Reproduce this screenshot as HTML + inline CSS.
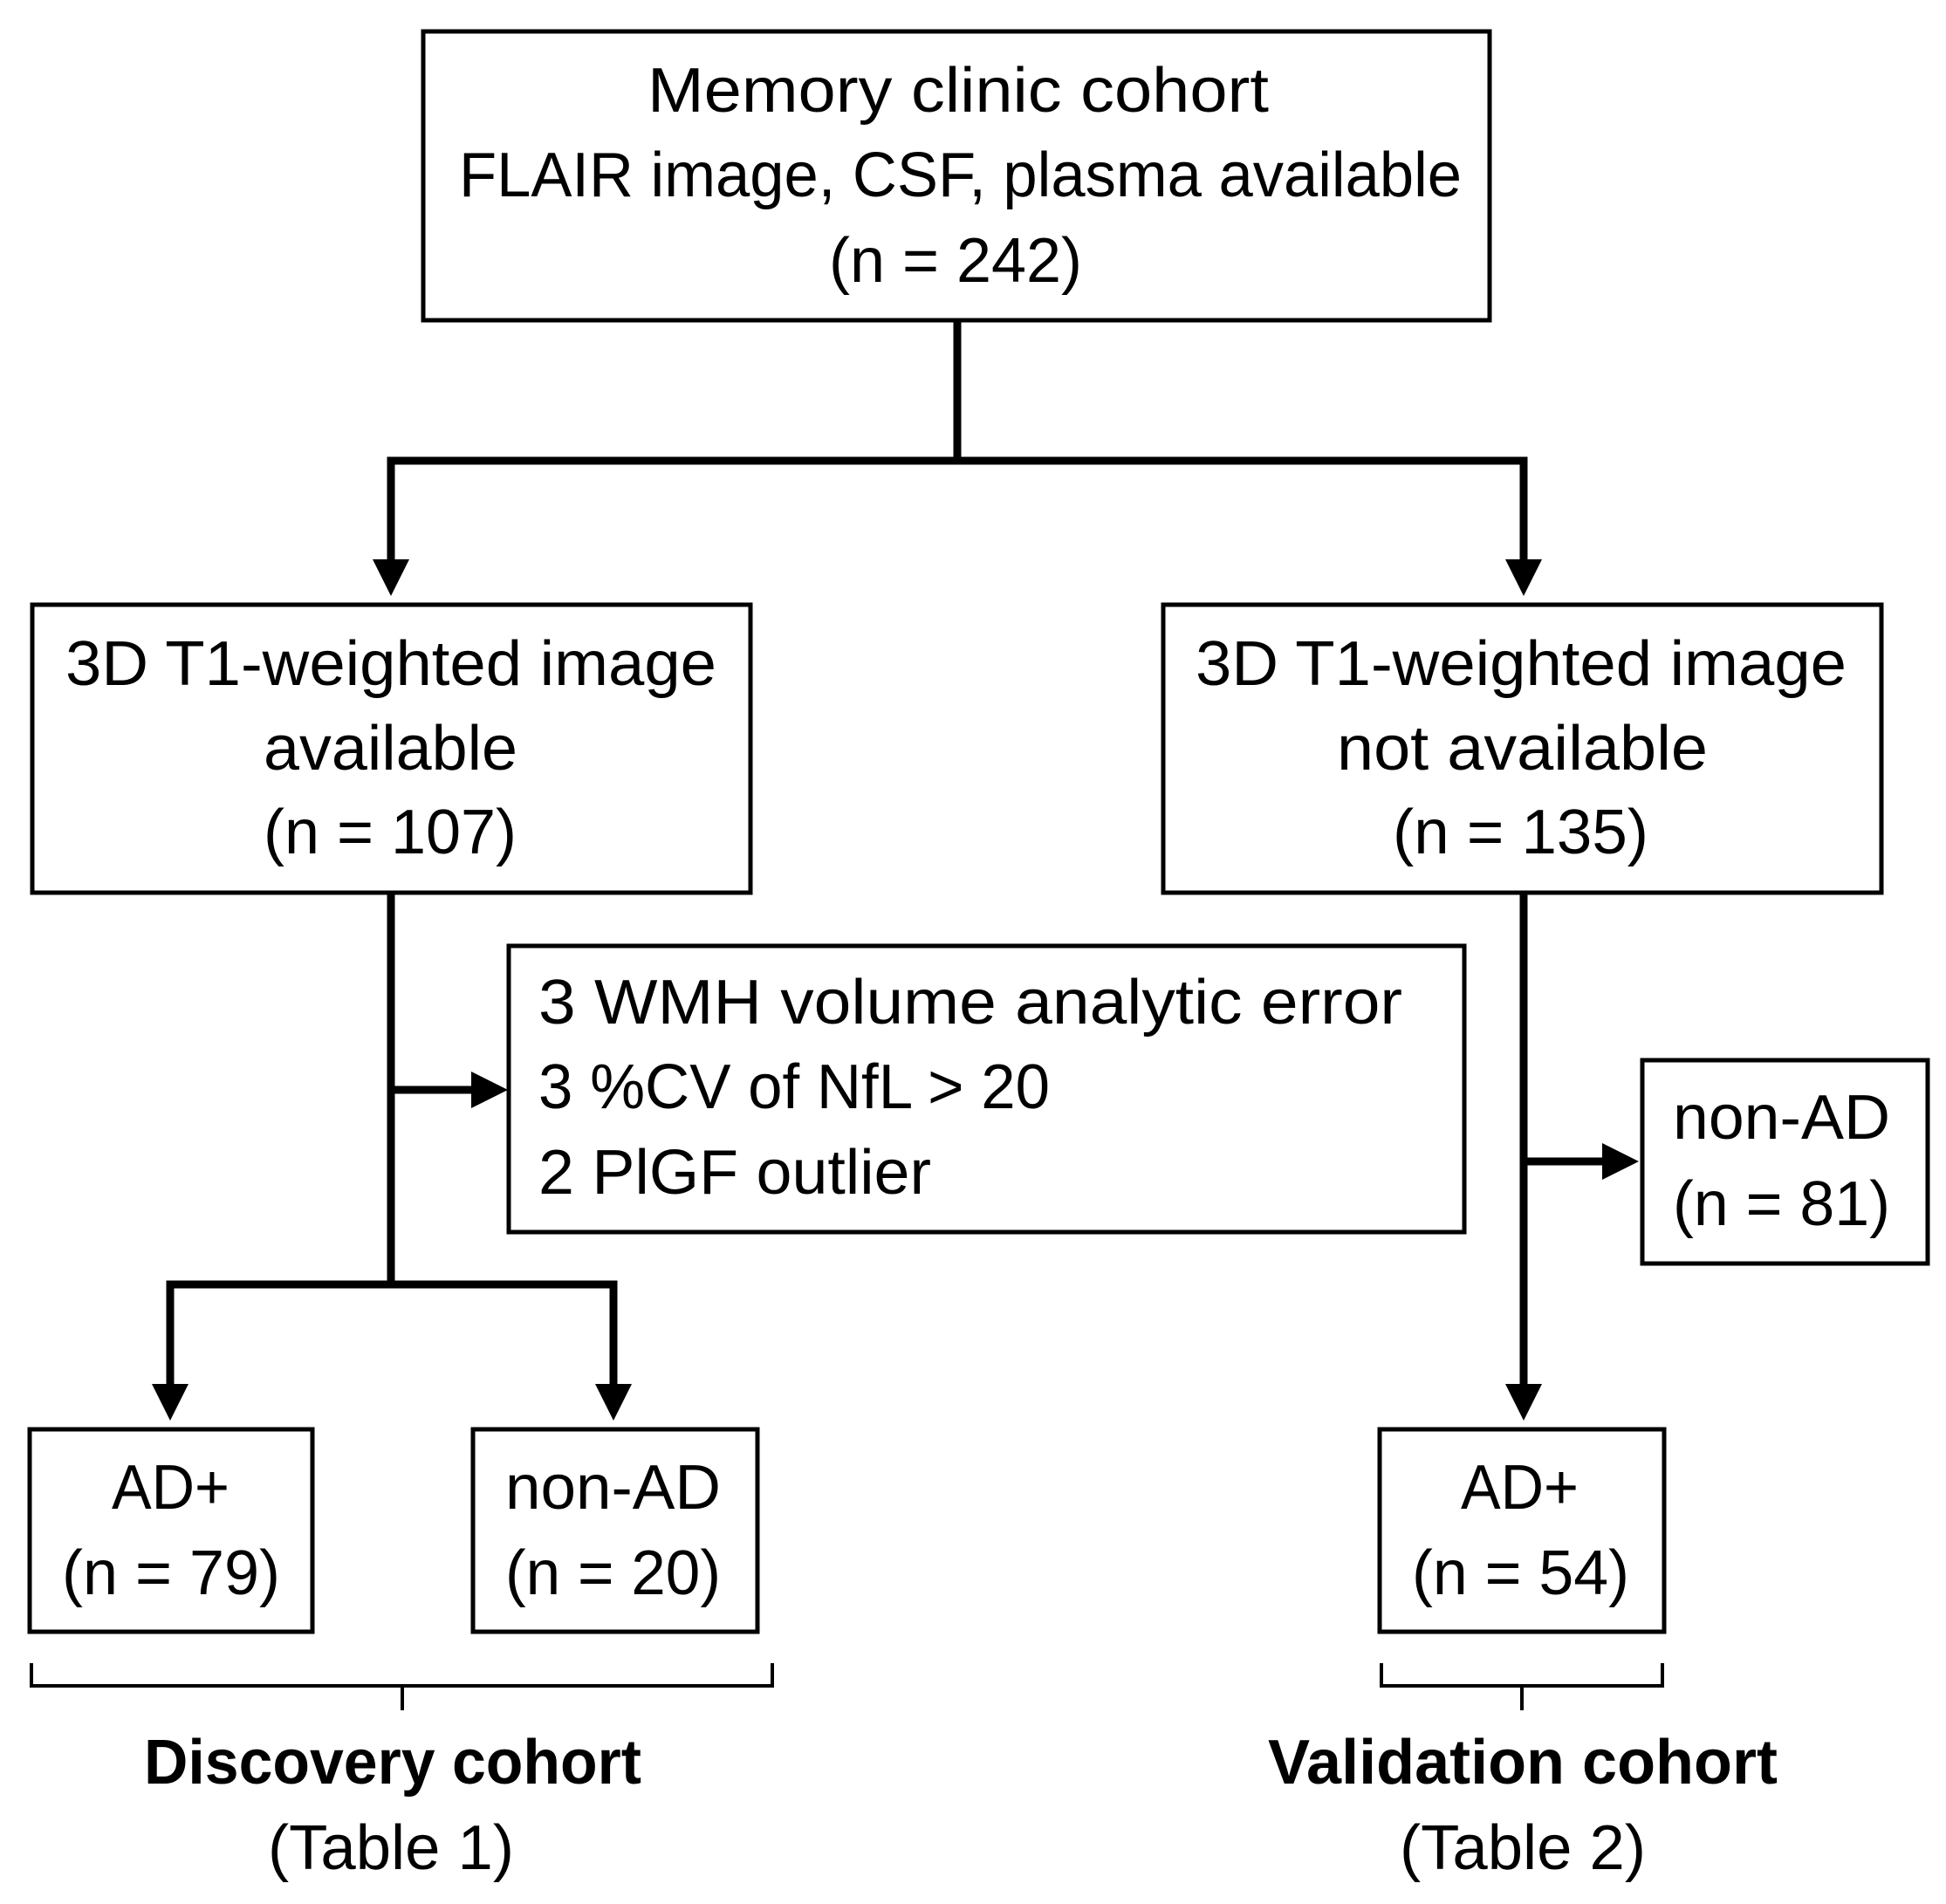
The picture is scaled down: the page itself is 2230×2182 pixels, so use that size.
<!DOCTYPE html>
<html><head><meta charset="utf-8"><style>html,body{margin:0;padding:0;background:#fff}svg{display:block}</style></head>
<body>
<svg width="2230" height="2182" viewBox="0 0 2230 2182" xmlns="http://www.w3.org/2000/svg" font-family="Liberation Sans, sans-serif" font-size="72" fill="#000">
<g fill="none" stroke="#000" stroke-width="5">
<rect x="485" y="36" width="1222" height="331"/>
<rect x="37" y="693" width="823" height="330"/>
<rect x="1333" y="693" width="823" height="330"/>
<rect x="583" y="1084" width="1095" height="328"/>
<rect x="1882" y="1215" width="327" height="233"/>
<rect x="34" y="1638" width="324" height="232"/>
<rect x="542" y="1638" width="326" height="232"/>
<rect x="1581" y="1638" width="326" height="232"/>
</g>
<g fill="none" stroke="#000" stroke-width="9">
<path d="M1097 367V528"/>
<path d="M448 641V528H1746V641"/>
<path d="M448 1023V1472"/>
<path d="M195 1586V1472H703V1586"/>
<path d="M448 1249H545"/>
<path d="M1746 1023V1590"/>
<path d="M1746 1331H1842"/>
</g>
<g fill="#000">
<path d="M427 641H469L448 683Z"/>
<path d="M1725 641H1767L1746 683Z"/>
<path d="M174 1586H216L195 1628Z"/>
<path d="M682 1586H724L703 1628Z"/>
<path d="M1725 1586H1767L1746 1628Z"/>
<path d="M540 1228V1270L582 1249Z"/>
<path d="M1836 1310V1352L1878 1331Z"/>
</g>
<g fill="none" stroke="#000" stroke-width="4">
<path d="M36 1906V1932H885V1906M461 1932V1960"/>
<path d="M1583 1906V1932H1905V1906M1744 1932V1960"/>
</g>
<g>
<text x="742" y="128" textLength="712" lengthAdjust="spacingAndGlyphs">Memory clinic cohort</text>
<text x="526" y="225" textLength="1149" lengthAdjust="spacingAndGlyphs">FLAIR image, CSF, plasma available</text>
<text x="950" y="323" textLength="290" lengthAdjust="spacingAndGlyphs">(n = 242)</text>
<text x="75" y="785" textLength="746" lengthAdjust="spacingAndGlyphs">3D T1-weighted image</text>
<text x="302" y="882" textLength="291" lengthAdjust="spacingAndGlyphs">available</text>
<text x="302" y="978" textLength="290" lengthAdjust="spacingAndGlyphs">(n = 107)</text>
<text x="1370" y="785" textLength="746" lengthAdjust="spacingAndGlyphs">3D T1-weighted image</text>
<text x="1532" y="882" textLength="425" lengthAdjust="spacingAndGlyphs">not available</text>
<text x="1596" y="978" textLength="293" lengthAdjust="spacingAndGlyphs">(n = 135)</text>
<text x="617" y="1173" textLength="990" lengthAdjust="spacingAndGlyphs">3 WMH volume analytic error</text>
<text x="617" y="1270" textLength="586" lengthAdjust="spacingAndGlyphs">3 %CV of NfL &gt; 20</text>
<text x="617" y="1368" textLength="450" lengthAdjust="spacingAndGlyphs">2 PlGF outlier</text>
<text x="1917" y="1305" textLength="249" lengthAdjust="spacingAndGlyphs">non-AD</text>
<text x="1917" y="1404" textLength="249" lengthAdjust="spacingAndGlyphs">(n = 81)</text>
<text x="128" y="1729" textLength="135" lengthAdjust="spacingAndGlyphs">AD+</text>
<text x="71" y="1827" textLength="250" lengthAdjust="spacingAndGlyphs">(n = 79)</text>
<text x="579" y="1729" textLength="247" lengthAdjust="spacingAndGlyphs">non-AD</text>
<text x="579" y="1827" textLength="247" lengthAdjust="spacingAndGlyphs">(n = 20)</text>
<text x="1674" y="1729" textLength="135" lengthAdjust="spacingAndGlyphs">AD+</text>
<text x="1618" y="1827" textLength="249" lengthAdjust="spacingAndGlyphs">(n = 54)</text>
<text x="165" y="2044" textLength="570" lengthAdjust="spacingAndGlyphs" font-weight="bold">Discovery cohort</text>
<text x="307" y="2142" textLength="282" lengthAdjust="spacingAndGlyphs">(Table 1)</text>
<text x="1453" y="2044" textLength="584" lengthAdjust="spacingAndGlyphs" font-weight="bold">Validation cohort</text>
<text x="1604" y="2142" textLength="282" lengthAdjust="spacingAndGlyphs">(Table 2)</text>
</g>
</svg>
</body></html>
